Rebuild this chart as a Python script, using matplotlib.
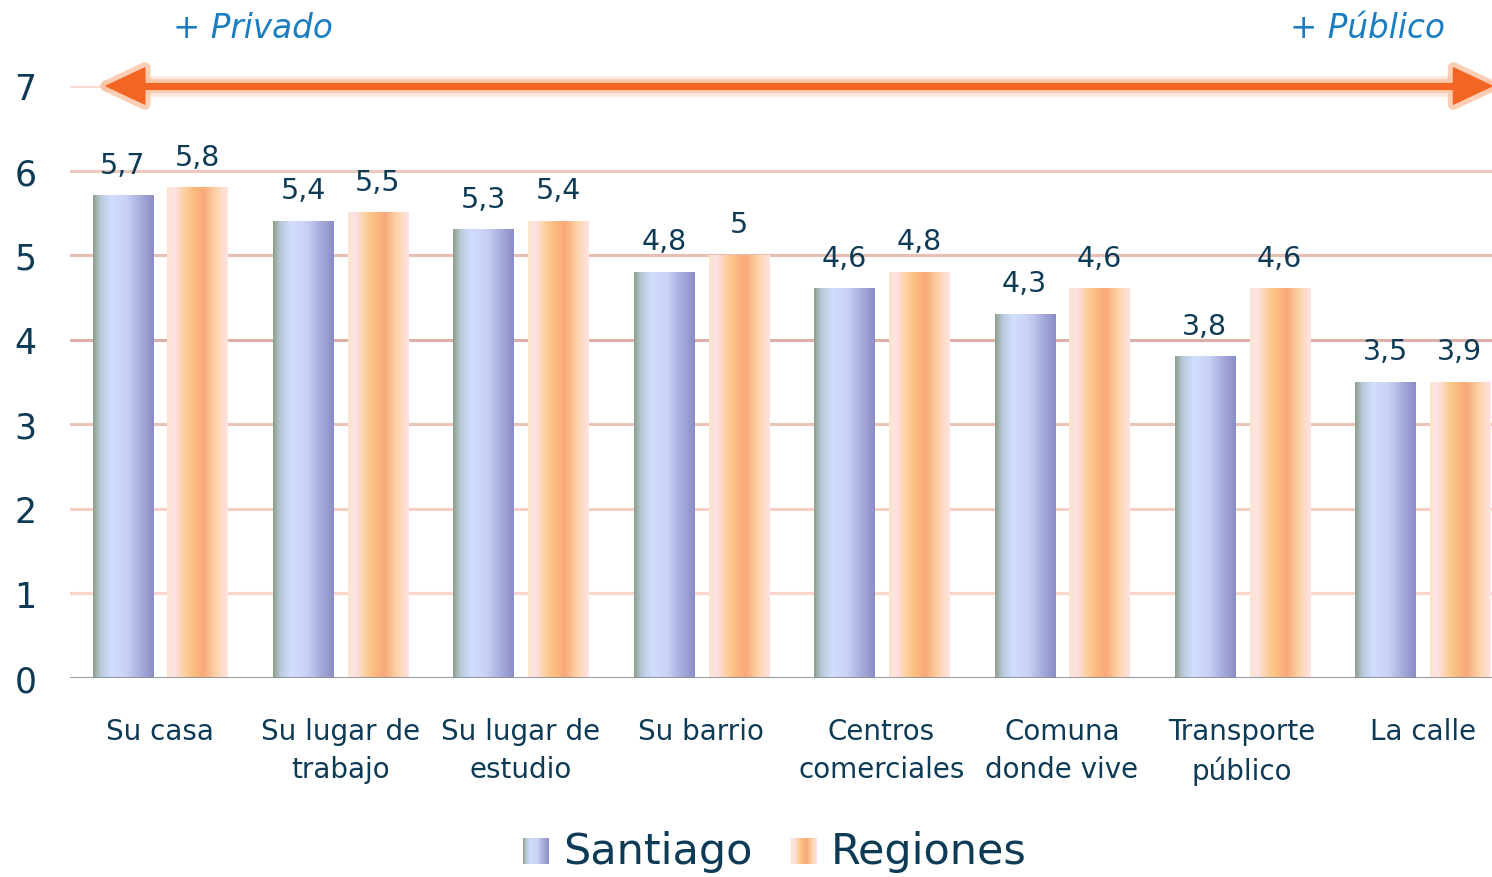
import numpy as np
import matplotlib
matplotlib.use("Agg")
import matplotlib.pyplot as plt
from matplotlib.colors import LinearSegmentedColormap
from matplotlib.patches import FancyArrowPatch
import matplotlib.patheffects as pe

plt.rcParams['font.family'] = ['DejaVu Sans']

# datos
categorias = ["Su casa", "Su lugar de\ntrabajo", "Su lugar de\nestudio", "Su barrio",
              "Centros\ncomerciales", "Comuna\ndonde vive", "Transporte\npúblico", "La calle"]
santiago = [5.7, 5.4, 5.3, 4.8, 4.6, 4.3, 3.8, 3.5]
regiones = [5.8, 5.5, 5.4, 5.0, 4.8, 4.6, 4.6, 3.5]
etiquetas_santiago = ["5,7", "5,4", "5,3", "4,8", "4,6", "4,3", "3,8", "3,5"]
etiquetas_regiones = ["5,8", "5,5", "5,4", "5", "4,8", "4,6", "4,6", "3,9"]
yticks = [0, 1, 2, 3, 4, 5, 6, 7]

texto_oscuro = "#0d3a55"
azul = "#1a7dc0"
naranja = "#f26522"

cmap_stgo = LinearSegmentedColormap.from_list("stgo", [
    (0.0, "#8c9e8a"), (0.12, "#b8c8d8"), (0.3, "#d2defe"), (0.55, "#c8d2f5"),
    (0.78, "#a8acdc"), (1.0, "#8a8cc6")])
cmap_reg = LinearSegmentedColormap.from_list("reg", [
    (0.0, "#fbe6cc"), (0.12, "#fde2e6"), (0.28, "#fcd0a0"), (0.42, "#fbbf80"),
    (0.6, "#f9a87a"), (0.8, "#fcd2a6"), (1.0, "#ffe4e4")])
grad = np.linspace(0, 1, 256).reshape(1, -1)

W, H = 1492, 878
fig = plt.figure(figsize=(W / 100, H / 100), dpi=100)
ax = fig.add_axes([70 / W, (H - 679) / H, (W - 70) / W, (679 - 87) / H])
for s in ax.spines.values():
    s.set_visible(False)

# lineas de grilla con tonos distintos
colores_grilla = ["#fcd5cc", "#f5cec4", "#ecc3b8", "#dbb1a8", "#e8bdb3", "#eec9c0", "#f8dccf"]
for y, c in zip(yticks[1:], colores_grilla):
    ax.axhline(y, color=c, lw=2.2, zorder=0)
ax.axhline(0, color="#8a8e96", lw=2, zorder=3)

x = np.arange(len(categorias))
ancho = 0.333
off = 0.207
b1 = ax.bar(x - off, santiago, ancho, color="none", zorder=2)
b2 = ax.bar(x + off, regiones, ancho, color="none", zorder=2)
for barras, cmap, etiquetas in [(b1, cmap_stgo, etiquetas_santiago), (b2, cmap_reg, etiquetas_regiones)]:
    for r, lab in zip(barras, etiquetas):
        x0, w, h = r.get_x(), r.get_width(), r.get_height()
        ax.imshow(grad, cmap=cmap, extent=(x0, x0 + w, 0, h), aspect="auto", zorder=2)
        ax.text(x0 + w / 2, h + 0.2, lab, ha="center", va="bottom", fontsize=20.5,
                color=texto_oscuro)
ax.set_xlim(-0.5, 7.385)
ax.set_ylim(0, 7)

ax.set_yticks(yticks)
ax.set_yticklabels([str(v) for v in yticks], fontsize=25, color=texto_oscuro)
ax.set_xticks(x)
ax.set_xticklabels(categorias, fontsize=20, color=texto_oscuro, linespacing=1.45)
ax.tick_params(axis="y", length=0, pad=24)
ax.tick_params(axis="x", length=0, pad=28)

# flecha privado - publico
glow = [pe.Stroke(linewidth=15, foreground="#fde5d8", alpha=0.8),
        pe.Stroke(linewidth=10, foreground="#fbc4a4", alpha=0.8),
        pe.Normal()]
trans = ax.get_yaxis_transform()
ax.plot([0.04, 0.985], [7, 7], transform=trans, color=naranja, lw=5, clip_on=False,
        zorder=5, solid_capstyle="butt", path_effects=glow)
flecha = FancyArrowPatch((0.0225, 7), (1.003, 7), transform=trans,
                         arrowstyle="<|-|>,head_length=0.7,head_width=0.33",
                         mutation_scale=40, color=naranja, lw=0.8, clip_on=False, zorder=6,
                         joinstyle="round",
                         path_effects=[pe.Stroke(linewidth=8, foreground="#fbc4a4", alpha=0.8),
                                       pe.Normal()])
ax.add_patch(flecha)
ax.plot([0.04, 0.985], [7, 7], transform=trans, color=naranja, lw=5, clip_on=False,
        zorder=7, solid_capstyle="butt")
fig.text(253 / W, 1 - 28 / H, "+ Privado", ha="center", va="center", fontsize=23.5,
         style="italic", color=azul)
fig.text(1445 / W, 1 - 28 / H, "+ Público", ha="right", va="center", fontsize=23.5,
         style="italic", color=azul)

# leyenda
for x0, cmap, nombre in [(523, cmap_stgo, "Santiago"), (791, cmap_reg, "Regiones")]:
    lax = fig.add_axes([x0 / W, (H - 865) / H, 26 / W, 26 / H])
    lax.imshow(grad, cmap=cmap, aspect="auto")
    lax.axis("off")
    fig.text((x0 + 40) / W, (H - 852) / H, nombre, ha="left", va="center", fontsize=31,
             color=texto_oscuro)

fig.savefig("out.png", dpi=100)
